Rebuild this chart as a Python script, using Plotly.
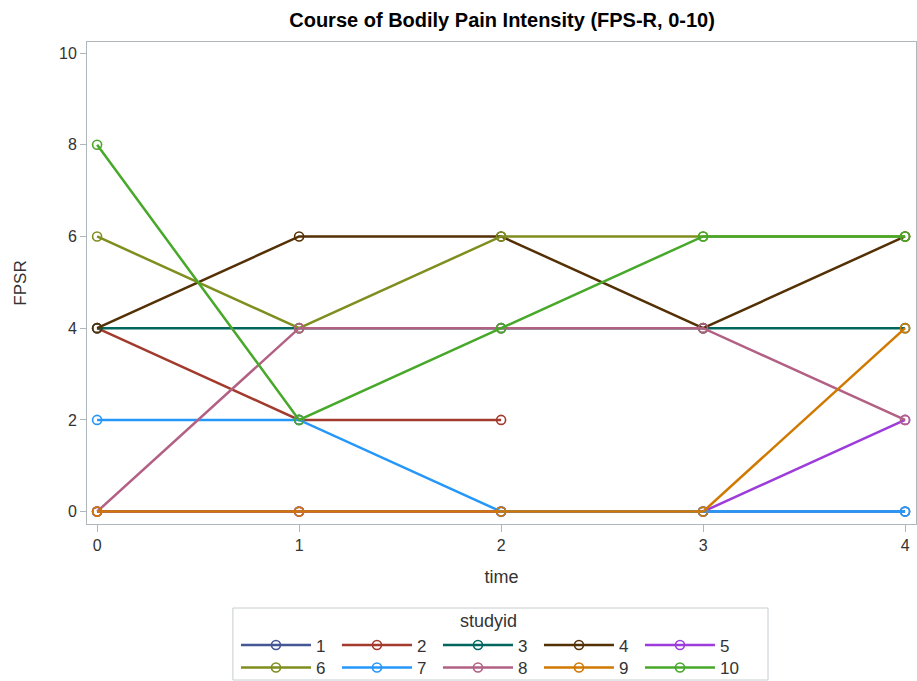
import plotly.graph_objects as go

times = [0, 1, 2, 3, 4]
study_ids = ["1", "2", "3", "4", "5", "6", "7", "8", "9", "10"]
fpsr_1 = [0, 0, 0, 0, 0]
fpsr_2 = [4, 2, 2, None, None]
fpsr_3 = [4, 4, 4, 4, 4]
fpsr_4 = [4, 6, 6, 4, 6]
fpsr_5 = [0, 0, 0, 0, 2]
fpsr_6 = [6, 4, 6, 6, 6]
fpsr_7 = [2, 2, 0, 0, 0]
fpsr_8 = [0, 4, 4, 4, 2]
fpsr_9 = [0, 0, 0, 0, 4]
fpsr_10 = [8, 2, 4, 6, 6]
series = [fpsr_1, fpsr_2, fpsr_3, fpsr_4, fpsr_5, fpsr_6, fpsr_7, fpsr_8, fpsr_9, fpsr_10]
colors = ["#445694", "#A23A2E", "#01665E", "#543005", "#9D3CDB",
          "#7F8E1F", "#2597FA", "#B26084", "#D17800", "#47A82A"]

fig = go.Figure()
for i, (sid, vals, c) in enumerate(zip(study_ids, series, colors)):
    xs = [t for t, v in zip(times, vals) if v is not None]
    ys = [v for v in vals if v is not None]
    fig.add_trace(go.Scatter(
        x=xs, y=ys, name=sid, mode="lines+markers",
        legend="legend" if i < 5 else "legend2",
        line=dict(color=c, width=2.5),
        marker=dict(symbol="circle-open", size=9, color=c, line=dict(width=1.6)),
    ))

font = "Liberation Sans, Arial, sans-serif"
grey = "#B0B7BB"
leg_common = dict(orientation="h", xanchor="left", yanchor="top", yref="container",
                  borderwidth=0, itemwidth=70, entrywidth=16, entrywidthmode="pixels",
                  font=dict(size=17), bgcolor="rgba(0,0,0,0)")
fig.update_layout(
    width=917, height=681,
    margin=dict(l=87, r=1, t=42, b=157, autoexpand=False),
    paper_bgcolor="white", plot_bgcolor="white",
    font=dict(family=font, size=16, color="#333333"),
    title=dict(text="<b>Course of Bodily Pain Intensity (FPS-R, 0-10)</b>",
               x=0.5475, xanchor="center", y=0.971, yanchor="middle",
               font=dict(family=font, size=20, color="#000000")),
    xaxis=dict(range=[-0.05, 4.054], tickvals=times, ticks="outside", ticklen=7,
               tickcolor=grey, showline=True, linecolor=grey, mirror=True,
               showgrid=False, zeroline=False,
               title=dict(text="time", font=dict(size=18), standoff=17)),
    yaxis=dict(range=[-0.27, 10.24], tickvals=[0, 2, 4, 6, 8, 10], ticks="outside", ticklen=6,
               tickcolor=grey, showline=True, linecolor=grey, mirror=True,
               showgrid=False, zeroline=False,
               title=dict(text="FPSR", font=dict(size=17), standoff=28)),
    legend=dict(x=0.1797, y=0.1131,
                title=dict(text="studyid", side="top center", font=dict(size=18)),
                **leg_common),
    legend2=dict(x=0.1797, y=0.0455, **leg_common),
    shapes=[dict(type="rect", xref="paper", yref="paper",
                 x0=0.176, x1=0.8215, y0=-0.3237, y1=-0.1743,
                 line=dict(color="#C8CDD0", width=1), fillcolor="rgba(0,0,0,0)")],
)
fig.write_html("out.html", config={"displayModeBar": False},
               post_script="document.body.style.margin='0';")
